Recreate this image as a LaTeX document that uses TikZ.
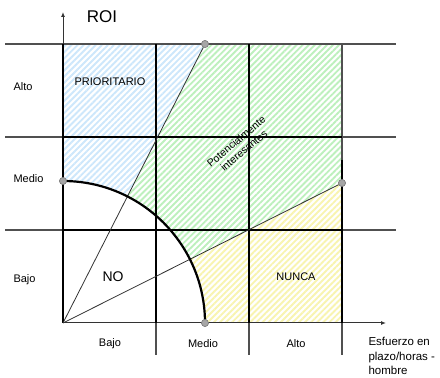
\documentclass[tikz,border=0pt]{standalone}
\usepackage{fontspec}
\setmainfont{Liberation Sans}
\usepackage{tikz}
\usetikzlibrary{arrows.meta, patterns.meta}

\definecolor{hatchblue}{HTML}{CDE7FB}
\definecolor{hatchgreen}{HTML}{BDF0BD}
\definecolor{hatchyellow}{HTML}{F8F4B0}
\definecolor{thingray}{HTML}{505050}

\begin{document}
\begin{tikzpicture}[x=1pt, y=1pt,
        thin line/.style={draw=thingray, line width=1.1pt},
        thick line/.style={draw=black, line width=2.8pt},
        ray/.style={draw=black!80, line width=0.8pt},
        axis/.style={-{Latex[length=5pt, width=4pt]}, draw=black!80, line width=1pt},
        hatch/.style={pattern={Lines[angle=45, distance=4.3pt, line width=1.9pt]}, pattern color=#1},
        dot/.style={circle, fill=gray!70, draw=gray, line width=0.6pt, minimum size=7pt, inner sep=0pt},
        lbl/.style={font=\fontsize{11}{13}\selectfont},
    ]
        \useasboundingbox (0,0) rectangle (440,378);

        % Corner of the axes and rim points
        \coordinate (o) at (63,55);
        \coordinate (ytip) at (63,366);
        \coordinate (xtip) at (386,55);
        \node[dot] (rimleft) at (63,197) {};
        \node[dot] (rimbottom) at (205,55) {};
        \node[dot] (steepend) at (205,334) {};
        \node[dot] (flatend) at (342,195) {};

        % Hatched zones
        \fill[hatch=hatchblue] (63,334) -- (steepend.center) -- ([shift={(63.03:142pt)}]o)
            arc[start angle=63.03, end angle=90, radius=142pt] -- cycle;
        \fill[hatch=hatchgreen] (steepend.center) -- (342,334) -- (flatend.center)
            -- ([shift={(26.65:142pt)}]o) arc[start angle=26.65, end angle=63.03, radius=142pt] -- cycle;
        \fill[hatch=hatchyellow] (flatend.center) -- (342,55) -- (rimbottom.center)
            arc[start angle=0, end angle=26.65, radius=142pt] -- cycle;

        % Thin grid lines
        \draw[thin line] (5,334) -- (396,334);
        \draw[thin line] (5,241) -- (396,241);
        \draw[thin line] (5,148) -- (396,148);
        \draw[thin line] (156,55) -- (156,23);
        \draw[thin line] (249,55) -- (249,23);
        \draw[thin line] (342,334) -- (342,23);

        % Axes
        \draw[axis] (o) -- (ytip);
        \draw[axis] (o) -- (xtip);

        % Thick grid lines
        \draw[thick line] (63,334) -- (63,55);
        \draw[thick line] (156,334) -- (156,55);
        \draw[thick line] (249,334) -- (249,55);
        \draw[thick line] (342,218) -- (342,55);
        \draw[thick line] (63,241) -- (342,241);
        \draw[thick line] (63,148) -- (342,148);

        % Rays and rim
        \draw[ray] (o) -- (steepend);
        \draw[ray] (o) -- (flatend);
        \draw[draw=black, line width=2.2pt] (rimleft.center) arc[start angle=90, end angle=0, radius=142pt];
        \node[dot] at (rimleft) {};
        \node[dot] at (rimbottom) {};
        \node[dot] at (steepend) {};
        \node[dot] at (flatend) {};

        % Labels
        \node[font=\fontsize{17}{19}\selectfont] (roi) at (102,361) {ROI};
        \node[lbl, anchor=west] (alto) at (10,291) {Alto};
        \node[lbl, anchor=west] (medio) at (10,199) {Medio};
        \node[lbl, anchor=west] (bajo) at (10,98) {Bajo};
        \node[lbl] (xbajo) at (110,34) {Bajo};
        \node[lbl] (xmedio) at (203,34) {Medio};
        \node[lbl] (xalto) at (296,34) {Alto};
        \node[lbl, anchor=north west, align=left, font=\fontsize{11.5}{14.5}\selectfont] (effort) at (365,44)
            {Esfuerzo en\\plazo/horas -\\hombre};
        \node[lbl] (prio) at (110,296) {PRIORITARIO};
        \node[font=\fontsize{14}{16}\selectfont] (no) at (113,101) {NO};
        \node[lbl] (nunca) at (296,101) {NUNCA};
        \node[lbl, rotate=40, align=center, font=\fontsize{10.5}{12}\selectfont] (poten) at (240,232)
            {Potencialmente\\interesantes};
    \end{tikzpicture}
\end{document}
